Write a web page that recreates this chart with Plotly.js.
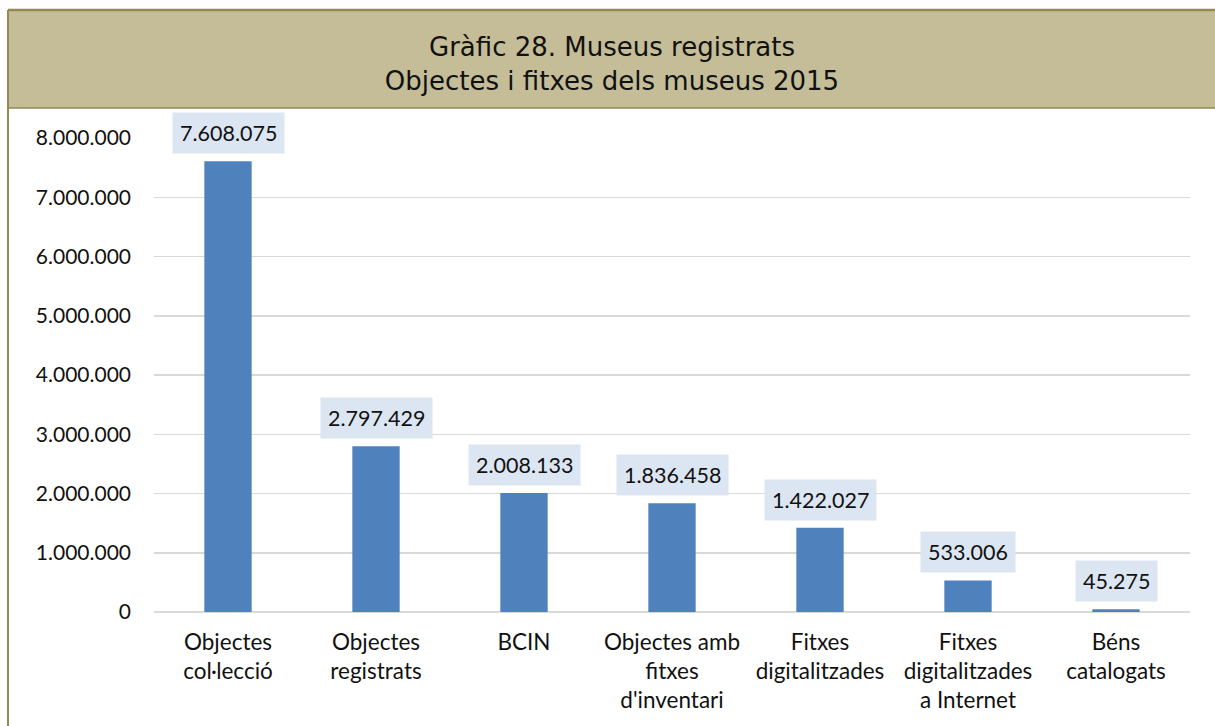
<!DOCTYPE html>
<html>
<head>
<meta charset="utf-8">
<script src="https://cdn.plot.ly/plotly-3.0.1.min.js"></script>
<style>
html,body{margin:0;padding:0;background:#fff;}
#chart{width:1215px;height:726px;}
</style>
</head>
<body>
<div id="chart"></div>
<script>
const categories = [
  "Objectes<br>col·lecció",
  "Objectes<br>registrats",
  "BCIN",
  "Objectes amb<br>fitxes<br>d'inventari",
  "Fitxes<br>digitalitzades",
  "Fitxes<br>digitalitzades<br>a Internet",
  "Béns<br>catalogats"
];
const values = [7608075, 2797429, 2008133, 1836458, 1422027, 533006, 45275];
const yTickValues = [0, 1000000, 2000000, 3000000, 4000000, 5000000, 6000000, 7000000, 8000000];
const titleText = "Gràfic 28. Museus registrats<br>Objectes i fitxes dels museus 2015";

function fmt(n){
  return String(n).replace(/\B(?=(\d{3})+(?!\d))/g, ".");
}

const W = 1215, H = 726;
const mL = 154, mR = 25, mT = 138, mB = 114;
const pw = W - mL - mR, ph = H - mT - mB;
const px = x => (x - mL) / pw;
const py = y => (H - mB - y) / ph;

const trace = {
  type: "bar",
  x: categories,
  y: values,
  marker: {color: "#4F81BD"},
  hoverinfo: "skip"
};

const annotations = categories.map((c, i) => ({
  x: c, y: values[i], xref: "x", yref: "y",
  text: fmt(values[i]),
  showarrow: false,
  yanchor: "bottom",
  yshift: 7,
  bgcolor: "#DCE6F2",
  borderpad: 7,
  font: {family: "Lato, 'Open Sans', sans-serif", size: 21.5, color: "#111"}
}));

const olive = "#938953";
const shapes = [
  {type: "rect", xref: "paper", yref: "paper", x0: px(8), x1: px(1230), y0: py(108), y1: py(10),
   fillcolor: "#C4BD97", line: {width: 0}, layer: "below"},
  {type: "line", xref: "paper", yref: "paper", x0: px(8), x1: px(1230), y0: py(10), y1: py(10),
   line: {color: olive, width: 2.5}},
  {type: "line", xref: "paper", yref: "paper", x0: px(8), x1: px(1230), y0: py(108), y1: py(108),
   line: {color: olive, width: 1.5}},
  {type: "line", xref: "paper", yref: "paper", x0: px(8), x1: px(8), y0: py(10), y1: py(730),
   line: {color: olive, width: 2}}
];

const layout = {
  width: W, height: H,
  margin: {l: mL, r: mR, t: mT, b: mB},
  paper_bgcolor: "#fff",
  plot_bgcolor: "#fff",
  separators: ",.",
  showlegend: false,
  bargap: 0.68,
  title: {
    text: titleText,
    font: {family: "'DejaVu Sans', Verdana, sans-serif", size: 26, color: "#111"},
    x: 612 / W, xref: "container", xanchor: "center",
    y: 1 - 56 / H, yref: "container", yanchor: "middle"
  },
  xaxis: {
    type: "category",
    showgrid: false,
    showline: false,
    zeroline: false,
    ticks: "",
    tickfont: {family: "Lato, 'Open Sans', sans-serif", size: 22.5, color: "#111"},
    ticklabelstandoff: 14,
    fixedrange: true
  },
  yaxis: {
    range: [0, 8000000],
    tickvals: yTickValues,
    ticktext: yTickValues.map(fmt),
    showgrid: true,
    gridcolor: "#D9D9D9",
    gridwidth: 1.5,
    zeroline: true,
    zerolinecolor: "#D9D9D9",
    zerolinewidth: 2,
    showline: false,
    ticks: "",
    ticklabelstandoff: 22,
    tickfont: {family: "Lato, 'Open Sans', sans-serif", size: 21, color: "#111"},
    fixedrange: true
  },
  annotations: annotations,
  shapes: shapes
};

Plotly.newPlot("chart", [trace], layout, {displayModeBar: false, staticPlot: true});
</script>
</body>
</html>
